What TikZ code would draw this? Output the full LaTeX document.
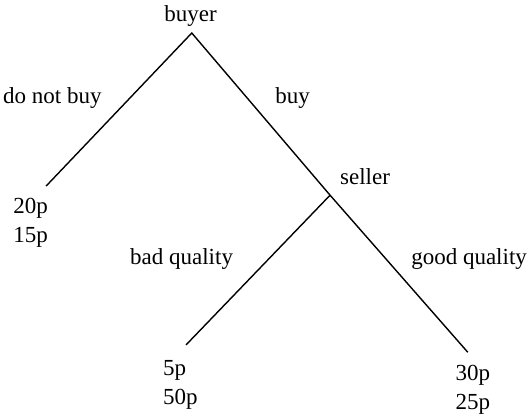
\documentclass[tikz,border=0pt]{standalone}
\usepackage{fontspec}
\setmainfont{Liberation Serif}
\usepackage{tikz}
\usetikzlibrary{positioning}

\begin{document}
\begin{tikzpicture}[
    branch/.style={line width=0.7pt, black},
    lbl/.style={anchor=base west, inner sep=0pt, font=\fontsize{11.5}{14.5}\selectfont},
    pay/.style={lbl, align=left}]
            \useasboundingbox (0,0) rectangle (9.331,-7.275);

            % Decision points
            \coordinate (buyer) at (3.37,-0.58);
            \coordinate (seller) at (5.80,-3.43);
            \coordinate (nobuy) at (0.81,-3.27);
            \coordinate (bad) at (3.27,-6.06);
            \coordinate (good) at (8.22,-6.19);

            % Branches
            \draw[branch] (nobuy) -- (buyer) -- (seller) -- (good);
            \draw[branch] (seller) -- (bad);

            % Players
            \node[lbl, anchor=base] (buyerlbl) at (3.35,-0.37) {buyer};
            \node[lbl] (sellerlbl) at (5.97,-3.25) {seller};

            % Moves
            \node[lbl] (nobuylbl) at (0.05,-1.81) {do not buy};
            \node[lbl] (buylbl) at (4.83,-1.81) {buy};
            \node[lbl] (badlbl) at (2.28,-4.64) {bad quality};
            \node[lbl] (goodlbl) at (7.22,-4.64) {good quality};

            % Payoffs (base is the lower line)
            \node[pay] (nobuypay) at (0.23,-4.27) {20p\\15p};
            \node[pay] (badpay) at (2.86,-7.10) {5p\\50p};
            \node[pay] (goodpay) at (8.00,-7.20) {30p\\25p};
\end{tikzpicture}
\end{document}
